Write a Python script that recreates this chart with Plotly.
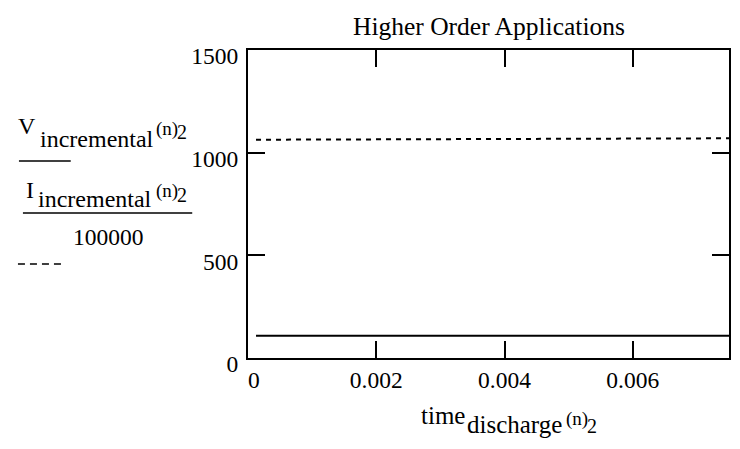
import plotly.graph_objects as go

# time_discharge(n)_2 samples (seconds)
time_discharge = [0.000125, 0.0025, 0.005, 0.0075]
# V_incremental / I_incremental / 100000 (dashed trace)
ratio_scaled = [1063, 1065, 1068, 1070]
# companion solid trace
solid_trace = [108, 108, 108, 108]

x_tickvals = [0, 0.002, 0.004, 0.006]
x_ticktext = ["\u00a0\u00a00", "0.002", "0.004", "0.006"]
y_tickvals = [0, 500, 1000, 1500]
y_ticktext = ["0", "500", "1000", "1500"]

FONT = "Liberation Serif"

# plot area in page pixels
L, R, T, B = 248, 731, 50, 358
W, H = R - L, B - T


def px(x):
    return (x - L) / W


def py(y):
    return (B - y) / H


fig = go.Figure()
fig.add_trace(go.Scatter(x=time_discharge, y=solid_trace, mode="lines",
                         line=dict(color="black", width=2), showlegend=False))
fig.add_trace(go.Scatter(x=time_discharge, y=ratio_scaled, mode="lines",
                         line=dict(color="black", width=2, dash="5px,5px"),
                         showlegend=False))

axis_common = dict(showline=True, linecolor="black", linewidth=2, mirror="allticks",
                   ticks="inside", ticklen=17, tickwidth=1.5, tickcolor="black",
                   showgrid=False, zeroline=False,
                   tickfont=dict(family=FONT, size=23.5, color="black"))

fig.update_xaxes(range=[0, 0.0075], tickvals=x_tickvals, ticktext=x_ticktext,
                 **axis_common)
fig.update_yaxes(range=[0, 1500], tickvals=y_tickvals, ticktext=y_ticktext,
                 ticklabelshift=6, ticklabelstandoff=3, **axis_common)


def text_at(s, x_left, baseline, size, anchor="left"):
    fig.add_annotation(text=s, xref="paper", yref="paper", x=px(x_left),
                       y=py(baseline - 0.3 * size), xanchor=anchor, yanchor="middle",
                       showarrow=False, borderpad=0,
                       font=dict(family=FONT, size=size, color="black"))


# title
text_at("Higher Order Applications", 490, 34, 25.5, anchor="center")

# y expression: V_incremental(n)_2 / I_incremental(n)_2 / 100000
text_at("V", 16, 133, 24)
text_at("incremental", 38, 146, 24)
text_at("(n)", 155, 135, 19)
text_at("2", 176, 138, 20)
text_at("I", 24, 197, 24)
text_at("incremental", 36, 206, 24)
text_at("(n)", 155, 197, 19)
text_at("2", 176, 201, 20)
text_at("100000", 108, 244, 23.5, anchor="center")

# x expression: time_discharge(n)_2
text_at("time", 421, 423, 25)
text_at("discharge", 467, 432, 25)
text_at("(n)", 566, 425, 19)
text_at("2", 587, 432, 20)


def hline(x0, x1, y, dash=None):
    fig.add_shape(type="line", xref="paper", yref="paper", x0=px(x0), x1=px(x1),
                  y0=py(y), y1=py(y), line=dict(color="black", width=1.5, dash=dash))


hline(18, 70, 161)
hline(22, 192, 213)
hline(17, 61, 264, dash="7px,5px")

fig.update_layout(width=740, height=449, margin=dict(l=L, r=740 - R, t=T, b=449 - B),
                  paper_bgcolor="white", plot_bgcolor="white",
                  font=dict(family=FONT, color="black"))

fig.write_html("out.html")
